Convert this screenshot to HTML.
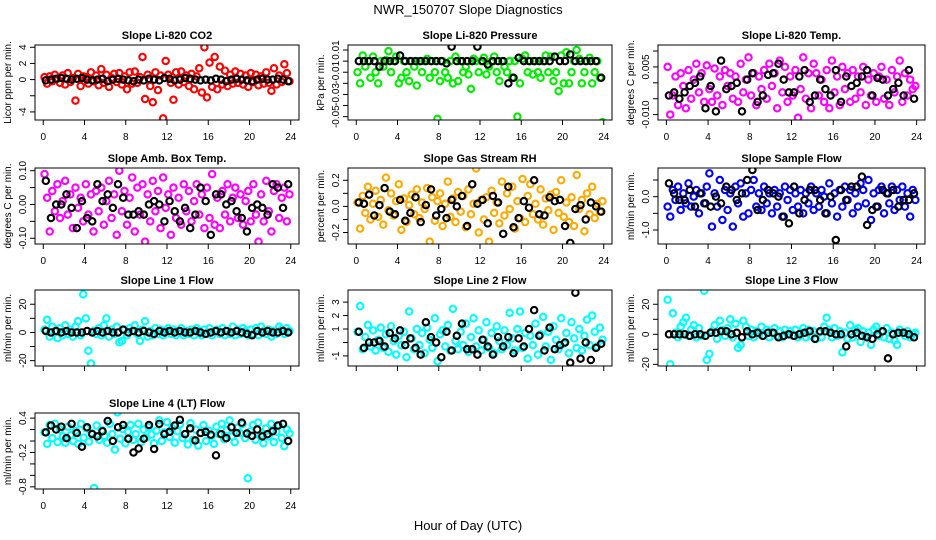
<!DOCTYPE html>
<html><head><meta charset="utf-8"><style>
html,body{margin:0;padding:0;background:#fff;}
svg{display:block;font-family:"Liberation Sans",sans-serif;}
</style></head><body>
<svg id="chart" width="936" height="540" viewBox="0 0 936 540">
<rect width="936" height="540" fill="#fff"/>
<text x="468" y="14" text-anchor="middle" font-size="13">NWR_150707  Slope Diagnostics</text>
<text x="468" y="530" text-anchor="middle" font-size="13">Hour of Day (UTC)</text>
</svg>
<script>
const titles = ["Slope Li-820 CO2","Slope Li-820 Pressure","Slope Li-820 Temp.","Slope Amb. Box Temp.","Slope Gas Stream RH","Slope Sample Flow","Slope Line 1 Flow","Slope Line 2 Flow","Slope Line 3 Flow","Slope Line 4 (LT) Flow"];
const yTitles = ["Licor ppm per min.","kPa per min.","degrees C per min.","degrees C per min.","percent per min.","ml/min per min.","ml/min per min.","ml/min per min.","ml/min per min.","ml/min per min."];
const xTicks = [0,4,8,12,16,20,24];
const yTicks = [[-4,-2,0,2,4],[0.01,0,-0.01,-0.02,-0.03,-0.04,-0.05],[0.01,0.005,0,-0.005,-0.01],[0.1,0.05,0,-0.05,-0.1],[0.2,0.1,0,-0.1,-0.2],[0.5,0,-0.5,-1.0],[20,10,0,-10,-20],[3,2,1,0,-1],[20,10,0,-10,-20],[0.4,0.2,0,-0.2,-0.4,-0.6,-0.8]];
const yTickLabels = [["-4","","0","2","4"],["0.01","","-0.01","","-0.03","","-0.05"],["","0.005","","","-0.010"],["0.10","","0.00","","-0.10"],["0.2","","0.0","","-0.2"],["","0.0","","-1.0"],["20","","0","","-20"],["3","2","1","","-1"],["20","","0","","-20"],["0.4","","","-0.2","","","-0.8"]];
const yRanges = [[-5.0,4.28],[-0.053,0.0145],[-0.0117,0.0119],[-0.117,0.108],[-0.288,0.294],[-1.42,0.86],[-23.8,30.1],[-1.75,3.9],[-21.1,29.5],[-0.838,0.489]];
const colors = ["#ff0000","#00ee00","#ff00ff","#ff00ff","#ffaa00","#0000ff","#00ffff","#00ffff","#00ffff","#00ffff"];

const co2 = [0.3,-0.5,0.4,-0.2,0.6,0.1,-0.4,0.5,-0.6,0.8,-0.3,0.2,-2.6,0.7,-0.8,0.4,0.3,-0.5,0.9,-0.2,0.5,-0.7,1.3,-0.4,0.6,-0.9,0.2,0.7,-0.3,0.8,-0.6,0.4,-1.2,0.9,-0.5,1.0,-0.4,0.3,2.8,-2.4,0.6,-0.8,-2.8,0.9,-1.3,0.5,-4.8,2.3,0.6,-0.4,-2.5,0.9,-0.6,1.0,-0.3,0.5,-0.8,0.7,-1.2,0.4,1.4,-1.6,4.0,-2.2,2.1,-0.9,2.8,-1.2,1.6,-0.6,1.1,-0.8,0.6,-0.5,1.0,-0.4,0.7,-0.6,0.5,-0.9,0.8,-0.3,0.6,-0.7,0.4,-0.5,0.9,-0.4,-1.4,1.4,-0.6,0.5,-0.3,1.9,0.8,-0.2];
const co2Avg = [-0.1,0,0.1,0.2,0.1,0,0.1,0.2,0,-0.1,0,0.1,-0.2,0,0.1,0,-0.1,-0.2,0,-0.1,0.1,0,-0.1,0.2,0.1,-0.1,0,0.2,0.1,0,-0.1,0,-0.1,0.1,0,-0.2,0,0.1,0,-0.1,-0.2,0,0.1,0,0,0.1,0,-0.2];
const press = [-0.01,-0.02,0.005,-0.005,0,-0.015,0.004,-0.01,-0.02,0,-0.005,0.001,0.009,-0.01,0,0.004,-0.02,-0.015,0,-0.01,-0.018,0,-0.005,-0.022,0,-0.01,0,0.002,-0.015,0,-0.01,-0.052,-0.018,0,-0.01,-0.015,0,-0.02,0.004,-0.018,0,-0.01,-0.005,-0.012,-0.025,0.002,0,-0.01,0,0.003,-0.012,-0.005,0,0.004,-0.01,-0.018,0,-0.005,-0.01,0,-0.015,0,-0.05,-0.02,0.002,0.005,-0.01,0,-0.012,0,-0.01,-0.015,0,0.005,-0.01,0.004,-0.018,-0.01,-0.027,0.005,-0.02,0.008,-0.02,-0.01,0,0.01,0.002,-0.02,-0.01,0,0.003,-0.02,-0.01,0,-0.015,-0.055];
const pressAvg = [0,0,0,0,-0.005,0,0,0,0.005,0,0,0,0,0,0,0,0,-0.002,0.013,0,0,0,0,0.013,0,-0.003,0,0,0,-0.02,-0.015,0.003,0,0,0,0,0,0,0.004,0,0,0.006,0,0,0,0,0,-0.015];
const temp = [0.005,-0.01,-0.004,0.002,-0.007,0.003,-0.001,-0.008,0.004,-0.005,0.001,0.006,-0.003,0.003,-0.006,0.0055,-0.002,-0.006,0.0045,-0.004,0.002,-0.007,0.004,-0.001,0.003,-0.005,0.002,-0.006,0.006,-0.003,0.001,0.008,-0.004,0.003,-0.007,0.002,-0.002,0.004,-0.005,0.006,-0.001,0.003,-0.008,0.007,-0.003,0.005,-0.006,0.002,-0.004,0.004,-0.011,-0.002,0.008,-0.005,0.003,-0.008,0.006,0.003,-0.004,0.001,-0.006,0.004,-0.008,0.007,-0.003,0.002,-0.007,0.005,-0.002,0.003,-0.006,0.004,-0.005,0.002,-0.003,0.005,-0.007,0.001,-0.004,0.003,-0.006,0.002,0.005,-0.005,0.001,-0.007,0.004,-0.003,0.002,0.007,-0.006,0.003,-0.004,0.001,-0.002,-0.001];
const tempAvg = [-0.004,-0.003,-0.005,-0.003,-0.001,0,0.002,-0.008,-0.001,-0.009,0.007,-0.002,-0.001,0,-0.009,0.001,0.003,-0.006,-0.004,0.0025,0.003,0.006,0.001,-0.003,-0.003,0.002,0.004,-0.006,-0.004,0.001,-0.002,-0.004,0.004,-0.006,0.002,-0.001,0,0.002,0.004,-0.004,0.0015,0.001,-0.004,-0.002,0,-0.004,0.004,-0.005];
const amb = [0.09,0.02,-0.08,0.04,-0.02,0.06,-0.04,0.01,0.07,-0.03,0.03,-0.07,0.05,-0.01,0.02,-0.05,0.06,-0.03,0.03,-0.08,0.04,-0.02,0.05,-0.06,0.01,0.07,-0.04,0.03,-0.09,0.1,-0.02,0.04,-0.06,0.02,0.08,-0.08,0.05,-0.03,0.06,-0.11,0.03,-0.05,0.07,-0.02,0.04,-0.07,0.08,-0.01,0.03,-0.09,0.05,-0.04,0.02,-0.06,0.06,-0.02,0.04,-0.05,0.01,0.06,-0.03,0.03,-0.07,0.05,-0.04,0.09,-0.06,0.02,-0.07,0.04,-0.03,0.06,-0.05,0.02,0.05,-0.04,0.03,-0.06,0.01,0.04,-0.05,0.06,-0.03,-0.11,0.03,-0.05,0.07,-0.02,-0.08,0.04,0.06,-0.04,0.02,0.05,-0.05,0.03];
const ambAvg = [0.07,-0.04,0,0,0.03,-0.01,-0.07,0.01,-0.04,-0.05,0.06,0.01,0.03,-0.01,0.06,0.02,-0.03,-0.03,-0.02,-0.03,0,0.01,0,-0.05,0.01,-0.02,-0.05,-0.01,-0.07,-0.03,0.05,0.01,-0.09,0.03,0.03,0,0.01,-0.02,-0.04,-0.08,-0.01,0,-0.01,-0.03,0.06,0.05,-0.01,0.06];
const rh = [0.03,-0.17,0.08,-0.05,0.15,-0.1,0.02,0.12,-0.08,0.05,-0.14,0.22,-0.03,0.1,-0.07,0.04,0.17,-0.18,0.06,-0.12,0.01,0.09,-0.06,0.13,-0.09,0.03,-0.02,0.14,-0.27,0.07,-0.11,0.04,0.1,-0.15,0.02,0.19,-0.08,0.06,-0.12,0.11,-0.04,0.08,-0.16,0.13,-0.06,0.02,0.29,-0.2,0.05,-0.1,0.07,-0.27,0.12,-0.05,0.03,-0.13,0.19,-0.07,0.1,-0.02,0.15,-0.17,0.04,-0.09,0.21,-0.12,0.08,0.17,-0.06,0.02,-0.1,0.13,-0.14,0.06,-0.03,0.09,-0.18,0.11,-0.05,0.2,-0.08,0.03,-0.12,0.07,-0.15,0.24,-0.02,0.05,-0.19,0.1,-0.06,0.15,-0.09,0.02,-0.04,0.04];
const rhAvg = [0.03,0.02,0.09,-0.07,0.01,0.14,-0.04,-0.06,0.05,-0.11,-0.05,0.07,-0.12,0.01,0.13,-0.07,-0.02,-0.09,0.05,0,0.08,-0.15,0.17,0.02,0.05,-0.13,0.08,0.03,-0.21,0.15,-0.16,-0.09,0.04,-0.01,0.2,-0.06,-0.07,0.07,0.04,0.05,-0.15,-0.28,-0.02,0.01,-0.1,0.03,0,-0.04];
const sflow = [-0.3,-0.6,0.2,-0.1,0.3,-0.4,0.1,-0.2,0.4,-0.3,0,0.2,-0.5,0.1,-0.2,0.3,0.7,-0.9,0.1,-0.3,0.5,-0.7,0.2,-0.4,0.1,-0.9,0.3,-0.2,0.4,-0.6,0.1,-0.5,0.2,0.5,-0.3,0.1,-0.4,0.3,-0.2,0.1,-0.5,0.2,-0.3,0.1,-0.6,0.3,-0.1,0.2,-0.4,0.1,-0.3,0.2,-0.5,0.1,-0.2,0.3,-0.4,0.1,-0.3,0.2,0,-0.5,0.4,-0.2,0.1,-0.6,0.2,-0.3,0.3,-0.1,0.2,-0.5,0.1,-0.3,0.4,0.2,-0.2,0.5,-0.7,0.1,-0.3,0.2,0.3,-0.5,0.1,-0.2,0.3,-0.4,0.2,-0.1,0.3,-0.3,0.1,-0.6,0.2,-0.1];
const sflowAvg = [0.4,0.1,-0.1,-0.1,0.2,-0.3,0.1,-0.2,-0.3,0,-0.2,0.3,0.2,-0.1,0.1,0.5,0.8,-0.4,-0.1,0.2,0.1,0,-0.6,-0.8,0.3,-0.5,-0.1,0.2,0.2,-0.1,-0.5,0,-1.3,0.2,-0.1,0.3,0.3,0.6,-0.85,-0.4,-0.3,0.2,0.1,0.2,-0.3,-0.1,-0.1,0.1];
const line1 = [2,9,-3,4,1,-4,3,-2,5,-1,2,-3,4,8,-2,27,10,-13,-22,1,-1,3,-2,5,10,-3,2,-1,4,-7,-6,2,-2,3,1,5,-1,-6,2,8,-3,1,-2,3,-1,2,-2,1,3,-1,2,-2,1,3,-2,1,-1,2,-2,3,1,-2,2,-1,3,-2,1,2,-1,3,-2,1,-1,4,-2,2,-1,3,1,-2,2,-1,3,-2,4,1,-1,2,-3,1,-1,4,2,-1,3,1];
const line1Avg = [1,0,1,0,1,0,0,0,1,0,1,0,1,0,0,2,0,1,0,1,0,-1,1,0,1,0,1,0,0,1,0,-1,0,1,0,1,0,1,0,-1,-2,1,0,1,0,0,1,0];
const line2 = [0.8,2.7,-0.5,0.4,1.3,-0.3,0.9,-0.6,0.2,1.1,-0.4,0.6,-0.7,1.2,0.1,-0.9,0.5,-0.2,0.8,-1.1,2.3,0.3,-0.5,1.0,-0.2,0.7,-0.8,1.1,0.2,-0.4,1.8,-1.4,0.6,0.9,-0.3,1.3,-0.6,2.5,0.1,-0.5,0.8,-0.2,1.4,-0.7,0.4,1.8,-0.3,0.9,-0.6,0.2,1.5,-0.4,0.7,-0.8,1.2,0.1,-0.5,0.9,-0.2,2.2,0.3,-0.6,1.0,2.3,-0.4,0.7,-1.2,0.5,-0.2,1.4,-0.9,0.6,1.9,-0.3,0.8,-1.3,1.2,0.2,-0.5,1.8,-0.1,0.7,-0.8,1.5,0.3,-0.4,1.0,-0.6,0.5,1.7,-0.2,2.0,0.8,-0.3,1.1,0.2];
const line2Avg = [0.8,-0.4,0,0,0.1,-0.3,0.7,0.3,0.9,-0.2,0.3,-0.4,-0.9,1.5,0.4,0,-1.1,0.8,-0.6,0.5,1.4,-0.5,-0.5,-0.9,0.2,-0.3,-0.9,0.4,-0.3,0.4,-0.8,0.3,-0.3,1.0,2.4,0.5,-0.6,1.1,-0.5,-0.2,0,-1.5,3.7,-1.2,0,-1.3,-0.4,-0.1];
const line3 = [23,-20,14,1,-2,5,8,11,-1,3,6,-2,4,-1,29,-17,-13,2,6,-3,9,3,-1,4,10,-2,7,-9,-7,9,5,-1,3,-2,2,0,5,-1,3,-2,1,4,-1,2,-2,3,0,2,-1,3,-2,1,4,-2,3,-1,2,-3,1,-2,5,11,3,-2,4,-1,2,-12,1,-3,6,-2,3,4,-5,2,-1,1,-7,3,5,-1,2,-2,4,-3,1,-4,-7,3,1,-1,2,-2,0,1];
const line3Avg = [0,0,0,0,-1,0,0,-1,1,1,2,2,0,1,-2,2,0,1,-1,1,1,-2,-1,0,-1,0,1,2,-3,2,2,1,0,0,-8,0,1,-1,-2,-3,0,2,-16,0,1,1,0,-2];
const line4 = [0.15,-0.05,0.28,0.05,0.3,-0.02,0.2,0.08,-0.03,0.25,0.1,0.0,0.18,-0.05,0.3,0.06,0.22,-0.01,0.14,-0.82,0.27,0.02,0.19,0.09,-0.03,0.3,0.12,-0.15,0.5,0.04,0.21,-0.04,0.16,0.28,0.02,0.12,0.3,-0.02,0.2,0.06,0.24,0.11,-0.04,0.18,0.36,0.0,0.15,0.33,0.07,0.22,-0.03,0.17,0.29,0.05,0.12,-0.06,0.31,0.02,0.2,-0.08,0.14,0.28,0.0,0.18,0.09,-0.05,0.25,0.12,0.3,0.03,0.19,0.36,0.08,-0.02,0.23,0.14,0.3,0.05,-0.65,0.17,0.28,0.02,0.32,0.11,-0.04,0.22,0.08,0.3,-0.02,0.16,0.27,0.05,-0.09,0.2,0.13];
const line4Avg = [0.15,0.27,0.2,0.25,0.05,0.3,0.14,-0.1,0.24,0.12,0.08,0.17,0.35,0.0,0.24,0.28,0.04,-0.2,-0.13,0.04,0.28,-0.14,0.3,0.12,0.16,0.27,0.37,0.12,0.22,0.01,0.14,0.16,0.11,-0.25,0.12,0.05,0.24,0.14,0.32,0.13,0.09,0.2,0.08,0.12,0.17,0.27,0.3,0.0];

const rawSeries = [co2,press,temp,amb,rh,sflow,line1,line2,line3,line4];
const avgSeries = [co2Avg,pressAvg,tempAvg,ambAvg,rhAvg,sflowAvg,line1Avg,line2Avg,line3Avg,line4Avg];
const panelKeys = ["co2","pressure","li820-temp","amb-box-temp","gas-stream-rh","sample-flow","line1-flow","line2-flow","line3-flow","line4-flow"];

const NS = "http://www.w3.org/2000/svg";
const svg = document.getElementById("chart");
const colL = [35,348,658], colR = [299,612,925];
const rowT = [45,168,290,413], rowB = [120,244,366,489];
const XMIN = -0.8, XMAX = 24.8;

function mk(tag, attrs, parent){
  const e = document.createElementNS(NS, tag);
  for (const k in attrs) e.setAttribute(k, attrs[k]);
  parent.appendChild(e);
  return e;
}

for (let p = 0; p < 10; p++){
  const c = p % 3, r = Math.floor(p / 3);
  const L = colL[c], R = colR[c], T = rowT[r], B = rowB[r];
  const [ymin, ymax] = yRanges[p];
  const xs = h => L + (h - XMIN) / (XMAX - XMIN) * (R - L);
  const ys = v => B - (v - ymin) / (ymax - ymin) * (B - T);

  const g = mk("g", {}, svg);
  
  

  const title = mk("text", {x:(L+R)/2, y:T-6, "text-anchor":"middle", "font-size":"11", "font-weight":"bold"}, g);
  title.textContent = titles[p];
  
  

  const yt = mk("text", {x:0, y:0, "text-anchor":"middle", "font-size":"10", transform:`translate(${L-24},${(T+B)/2}) rotate(-90)`}, g);
  yt.textContent = yTitles[p];
  
  

  const clipId = "clip" + p;
  const cp = mk("clipPath", {id: clipId}, g);
  mk("rect", {x:L, y:T, width:R-L, height:B-T}, cp);

  const pts = mk("g", {"clip-path":`url(#${clipId})`, fill:"none"}, g);
  
  

  const raw = rawSeries[p];
  raw.forEach((v, i) => {
    const h = (i + 0.5) * 24 / raw.length;
    const ci = mk("circle", {cx: xs(h), cy: ys(v), r: 3.2, stroke: colors[p], "stroke-width": 2.1}, pts);
    
    
  });
  const avg = avgSeries[p];
  avg.forEach((v, i) => {
    const h = (i + 0.5) * 24 / avg.length;
    const ci = mk("circle", {cx: xs(h), cy: ys(v), r: 3.2, stroke: "#000", "stroke-width": 2.1}, pts);
    
    
  });

  const box = mk("rect", {x:L, y:T, width:R-L, height:B-T, fill:"none", stroke:"#000", "stroke-width":1}, g);
  
  

  yTicks[p].forEach((t, i) => {
    const y = ys(t);
    mk("line", {x1:L-5, x2:L, y1:y, y2:y, stroke:"#000", "stroke-width":1}, g);
    const lab = yTickLabels[p][i];
    if (lab){
      const tx = mk("text", {x:0, y:0, "text-anchor":"middle", "font-size":"10", transform:`translate(${L-9},${y}) rotate(-90)`}, g);
      tx.textContent = lab;
      
      
    }
  });
  xTicks.forEach(t => {
    const x = xs(t);
    mk("line", {x1:x, x2:x, y1:B, y2:B+5, stroke:"#000", "stroke-width":1}, g);
    if (r !== 2){
      const tx = mk("text", {x:x, y:B+20, "text-anchor":"middle", "font-size":"10"}, g);
      tx.textContent = t;
      
      
    }
  });
}
</script>
</body></html>
